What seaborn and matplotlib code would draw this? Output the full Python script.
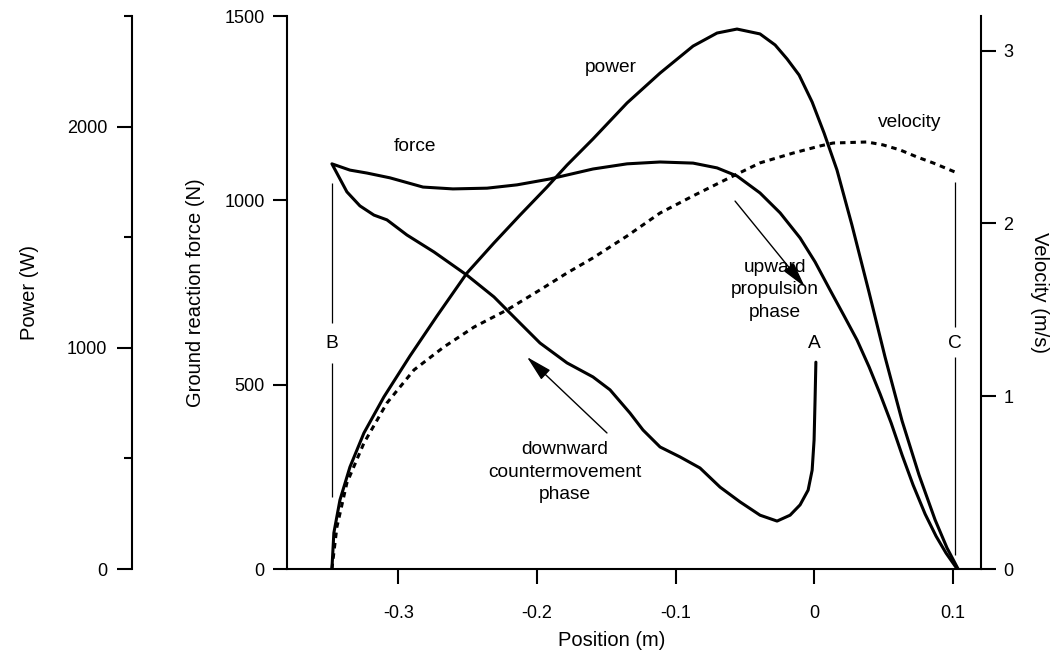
import numpy as np
import matplotlib
matplotlib.use("Agg")
import matplotlib.pyplot as plt
from matplotlib.ticker import MultipleLocator
import seaborn as sns

# ---------------- data ----------------
# force loop: starts at A, countermovement down to B, propulsion to C
force_pos = [0.0011, 0.0005, -0.0002, -0.0016, -0.0045, -0.0103, -0.0175, -0.0269,
             -0.0392, -0.0536, -0.0680, -0.0825, -0.0969, -0.1113, -0.1236, -0.1330,
             -0.1474, -0.1597, -0.1784, -0.1979, -0.2123, -0.2311, -0.2506, -0.2744,
             -0.2939, -0.3083, -0.3177, -0.3278, -0.3372, -0.3480,
             -0.3350, -0.3227, -0.3061, -0.2823, -0.2607, -0.2361, -0.2145, -0.1907,
             -0.1597, -0.1351, -0.1113, -0.0875, -0.0702, -0.0558, -0.0392, -0.0247,
             -0.0103, 0.0005, 0.0113, 0.0214, 0.0308, 0.0395, 0.0474, 0.0554, 0.0633,
             0.0712, 0.0799, 0.0878, 0.0950, 0.1030]
force_N = [561, 458, 350, 268, 214, 174, 146, 130,
           146, 182, 222, 274, 304, 331, 377, 423,
           486, 521, 559, 613, 667, 738, 797, 860,
           906, 947, 960, 985, 1023, 1099,
           1082, 1074, 1061, 1036, 1031, 1033, 1042, 1058,
           1085, 1099, 1104, 1101, 1088, 1066, 1020, 966,
           898, 833, 757, 687, 621, 548, 475, 396, 309,
           228, 149, 89, 43, 0]

power_pos = [-0.3480, -0.3466, -0.3422, -0.3350, -0.3249, -0.3105, -0.2917, -0.2722,
             -0.2506, -0.2311, -0.2123, -0.1928, -0.1784, -0.1597, -0.1351, -0.1113,
             -0.0875, -0.0702, -0.0558, -0.0392, -0.0283, -0.0197, -0.0110, -0.0016,
             0.0070, 0.0163, 0.0271, 0.0394, 0.0510, 0.0633, 0.0755, 0.0871, 0.0957,
             0.1037]
power_W = [0, 163, 312, 461, 615, 778, 963, 1144,
           1338, 1474, 1600, 1727, 1826, 1944, 2107, 2242,
           2364, 2423, 2441, 2419, 2369, 2306, 2233, 2111,
           1971, 1804, 1555, 1252, 958, 669, 425, 222, 95,
           0]

vel_pos = [-0.3480, -0.3444, -0.3372, -0.3249, -0.3083, -0.2888, -0.2672, -0.2455,
           -0.2217, -0.1979, -0.1784, -0.1597, -0.1351, -0.1113, -0.0875, -0.0630,
           -0.0392, -0.0153, 0.0041, 0.0135, 0.0380, 0.0496, 0.0618, 0.0741,
           0.0856, 0.1015]
vel_ms = [0.0, 0.243, 0.498, 0.729, 0.961, 1.152, 1.285, 1.400,
          1.499, 1.615, 1.713, 1.800, 1.927, 2.060, 2.159, 2.257,
          2.350, 2.407, 2.448, 2.465, 2.471, 2.454, 2.425, 2.384,
          2.350, 2.297]

x_ticks = [-0.3, -0.2, -0.1, 0.0, 0.1]
x_ticklabels = ["-0.3", "-0.2", "-0.1", "0", "0.1"]
force_ticks = [0, 500, 1000, 1500]
vel_ticks = [0, 1, 2, 3]
power_ticks = [0, 1000, 2000]

# marker lines B and C (in force units), with a gap for the letter
mark_x = [-0.3480, -0.3480, 0.1015, 0.1015]
mark_lo = [667, 195, 656, 38]
mark_hi = [1047, 559, 1050, 575]
mark_labels = ["B", "A", "C"]
mark_label_x = [-0.3480, 0.0000, 0.1015]
mark_label_y = 613

# ---------------- style ----------------
sns.set_style("ticks")
plt.rcParams["font.family"] = ["Liberation Sans", "DejaVu Sans"]
plt.rcParams["axes.unicode_minus"] = False
for k in ("text.color", "axes.labelcolor", "xtick.color", "ytick.color", "axes.edgecolor"):
    plt.rcParams[k] = "black"

LW = 2.2
SP = 1.5
fs_tick = 13
fs_lab = 14.5
fs_txt = 13.8

fig = plt.figure(figsize=(10.57, 6.61), dpi=100)
ax = fig.add_axes([0.27152, 0.13918, 0.65658, 0.83661])
ax_v = ax.twinx()
ax_p = ax.twinx()

sns.lineplot(x=force_pos, y=force_N, sort=False, estimator=None, color="black",
             lw=LW, ax=ax)
sns.lineplot(x=power_pos, y=power_W, sort=False, estimator=None, color="black",
             lw=LW, ax=ax_p)
sns.lineplot(x=vel_pos, y=vel_ms, sort=False, estimator=None, color="black",
             lw=LW, ax=ax_v)
ax_v.lines[-1].set_linestyle((0, (1.8, 1.6)))
for a in (ax, ax_p):
    for ln in a.lines:
        ln.set_solid_joinstyle("round")

ax.vlines(mark_x, mark_lo, mark_hi, color="black", lw=0.9)
for lab, lx in zip(mark_labels, mark_label_x):
    ax.text(lx, mark_label_y, lab, ha="center", va="center", fontsize=fs_txt)

# limits
ax.set_xlim(-0.3804, 0.1202)
ax.set_ylim(0, 1500)
ax_v.set_ylim(0, 3.2)
ax_p.set_ylim(0, 2500)

# spines
for a in (ax, ax_v, ax_p):
    a.spines["top"].set_visible(False)
    for s in a.spines.values():
        s.set_linewidth(SP)
        s.set_color("black")
ax.spines["right"].set_visible(False)
ax_v.spines["left"].set_visible(False)
ax_v.spines["bottom"].set_visible(False)
ax_p.spines["right"].set_visible(False)
ax_p.spines["bottom"].set_visible(False)
ax_p.spines["left"].set_visible(True)
ax_p.spines["left"].set_position(("axes", -0.2233))
ax_p.yaxis.set_ticks_position("left")
ax_p.yaxis.set_label_position("left")

# ticks
ax.set_xticks(x_ticks)
ax.set_xticklabels(x_ticklabels)
ax.set_yticks(force_ticks)
ax.set_yticklabels([str(t) for t in force_ticks])
ax_v.set_yticks(vel_ticks)
ax_v.set_yticklabels([str(t) for t in vel_ticks])
ax_p.set_yticks(power_ticks)
ax_p.set_yticklabels([str(t) for t in power_ticks])
ax_p.yaxis.set_minor_locator(MultipleLocator(500))

ax.tick_params(axis="x", direction="out", length=11, width=SP, labelsize=fs_tick, pad=15,
               color="black", labelcolor="black")
ax.tick_params(axis="y", direction="out", length=10, width=SP, labelsize=fs_tick, pad=6,
               color="black", labelcolor="black")
ax_v.tick_params(axis="y", direction="out", length=11, width=SP, labelsize=fs_tick, pad=5,
                 color="black", labelcolor="black")
ax_p.tick_params(axis="y", which="major", direction="out", length=11, width=SP,
                 labelsize=fs_tick, pad=7, color="black", labelcolor="black")
ax_p.tick_params(axis="y", which="minor", direction="out", length=5.5, width=SP,
                 color="black")

ax.set_xlabel("Position (m)", fontsize=fs_lab, labelpad=6)
ax.xaxis.set_label_coords(0.468, -0.112)
ax.set_ylabel("Ground reaction force (N)", fontsize=fs_lab, labelpad=14)
ax_v.set_ylabel("Velocity (m/s)", fontsize=fs_lab, rotation=270, labelpad=26)
ax_p.set_ylabel("Power (W)", fontsize=fs_lab, labelpad=20)

# annotations (force-axis coordinates)
ax.text(-0.1467, 1359, "power", ha="center", va="center", fontsize=fs_txt)
ax.text(-0.2881, 1147, "force", ha="center", va="center", fontsize=fs_txt)
ax.text(0.0690, 1210, "velocity", ha="center", va="center", fontsize=fs_txt)
ax.text(-0.0284, 757, "upward\npropulsion\nphase", ha="center", va="center",
        fontsize=fs_txt, linespacing=1.4)
ax.text(-0.1799, 263, "downward\ncountermovement\nphase", ha="center", va="center",
        fontsize=fs_txt, linespacing=1.4)

arrow = dict(arrowstyle="-|>,head_length=0.8,head_width=0.2", color="black",
             lw=1.0, mutation_scale=20, shrinkA=0, shrinkB=0)
ax.annotate("", xy=(-0.0068, 765), xytext=(-0.0572, 998), arrowprops=arrow)
ax.annotate("", xy=(-0.2073, 575), xytext=(-0.1496, 369), arrowprops=arrow)

fig.savefig("out.png", dpi=100)
